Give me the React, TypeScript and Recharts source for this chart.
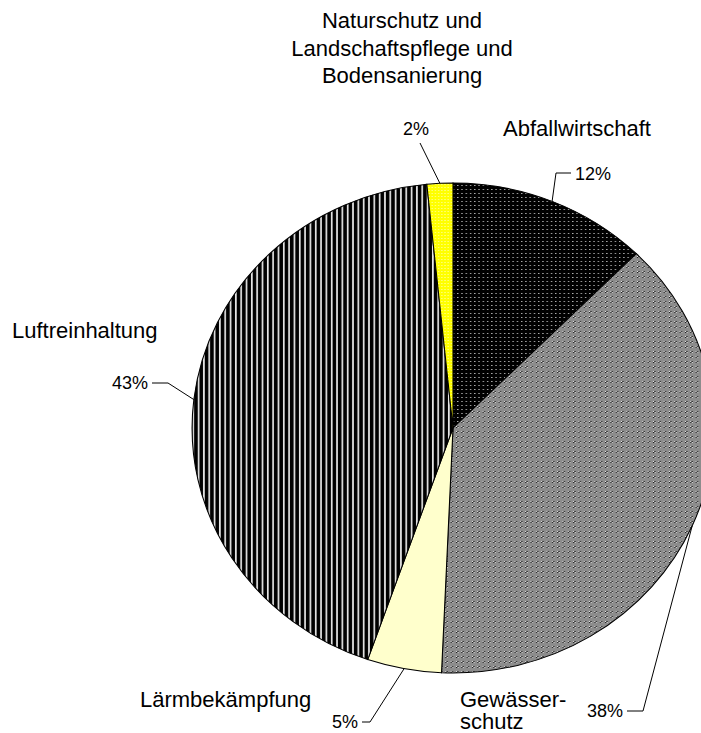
import { Cell, Pie, PieChart } from 'recharts';

const categories = [
  'Abfallwirtschaft',
  'Gewässerschutz',
  'Lärmbekämpfung',
  'Luftreinhaltung',
  'Naturschutz und Landschaftspflege und Bodensanierung',
];
const shares = [12.4, 38.3, 4.6, 43.1, 1.6];
const nameLines = [
  ['Abfallwirtschaft'],
  ['Gewässer-', 'schutz'],
  ['Lärmbekämpfung'],
  ['Luftreinhaltung'],
  ['Naturschutz und', 'Landschaftspflege und', 'Bodensanierung'],
];

const fills = ['url(#dots)', 'url(#checker)', '#FFFFCC', 'url(#stripes)', 'url(#yellowDots)'];

// label placement (px in chart space)
const layout = [
  { nx: 503, ny: 136, nAnchor: 'start', step: 22, px: 575, py: 180, pAnchor: 'start', start: [571, 173], elbow: [556, 173] },
  { nx: 460, ny: 707, nAnchor: 'start', step: 22, px: 623, py: 717, pAnchor: 'end', start: [627, 711], elbow: [643, 711] },
  { nx: 140, ny: 707, nAnchor: 'start', step: 22, px: 358, py: 728, pAnchor: 'end', start: [362, 722], elbow: [370, 722] },
  { nx: 12, ny: 338, nAnchor: 'start', step: 22, px: 148, py: 389, pAnchor: 'end', start: [152, 383], elbow: [168, 383] },
  { nx: 402, ny: 28, nAnchor: 'middle', step: 27.5, px: 403, py: 135, pAnchor: 'start', start: [420, 143], elbow: [420, 143] },
];

const data = categories.map((name, i) => ({ name, value: shares[i] }));

const CX = 453;
const CY = 428;
const R = 245;
const SX = 1.065; // pie is slightly wider than tall

const font = '"Liberation Sans", Arial, sans-serif';

function renderLabel(props: any) {
  const { cx, cy, midAngle, outerRadius, index, percent } = props;
  const l = layout[index];
  const a = ((90 - midAngle) * Math.PI) / 180;
  const rx = cx + SX * outerRadius * Math.sin(a);
  const ry = cy - outerRadius * Math.cos(a);
  return (
    <g key={'lbl' + index}>
      <polyline
        points={`${l.start[0]},${l.start[1]} ${l.elbow[0]},${l.elbow[1]} ${rx},${ry}`}
        fill='none'
        stroke='#000'
        strokeWidth={1}
      />
      <text x={l.px} y={l.py} textAnchor={l.pAnchor} fontSize={18} fontFamily={font} fill='#000'>
        {Math.round(percent * 100)}%
      </text>
      <text x={l.nx} y={l.ny} textAnchor={l.nAnchor} fontSize={22} fontFamily={font} fill='#000'>
        {nameLines[index].map((t, j) => (
          <tspan key={j} x={l.nx} y={l.ny + j * l.step}>
            {t}
          </tspan>
        ))}
      </text>
    </g>
  );
}

export default function App() {
  return (
    <div style={{ position: 'absolute', left: 0, top: 0, background: '#fff' }}>
      <style>{`.ellipse-pie .recharts-pie-sector { transform: translate(${CX}px, ${CY}px) scaleX(${SX}) translate(-${CX}px, -${CY}px); }`}</style>
      <svg width={0} height={0} style={{ position: 'absolute' }}>
        <defs>
          <pattern id='dots' width={4} height={4} patternUnits='userSpaceOnUse'>
            <rect width={4} height={4} fill='#000' />
            <rect x={1} y={1} width={1} height={1} fill='#e8e8e8' />
          </pattern>
          <pattern id='checker' width={5} height={5} patternUnits='userSpaceOnUse'>
            <rect width={5} height={5} fill='#8c8c8c' />
            <rect x={1} y={1} width={1} height={1} fill='#fff' />
            <rect x={2} y={2} width={1} height={1} fill='#fff' />
            <rect x={2} y={1} width={1} height={1} fill='#000' />
            <rect x={1} y={2} width={1} height={1} fill='#000' />
          </pattern>
          <pattern id='stripes' width={5} height={5} patternUnits='userSpaceOnUse'>
            <rect width={5} height={5} fill='#000' />
            <rect x={3.3} width={1.6} height={5} fill='#e6e6e6' />
          </pattern>
          <pattern id='yellowDots' width={3} height={3} patternUnits='userSpaceOnUse'>
            <rect width={3} height={3} fill='#FFFF00' />
            <rect x={1} y={1} width={1} height={1} fill='#ffffa8' />
          </pattern>
        </defs>
      </svg>
      <PieChart width={701} height={733} margin={{ top: 0, right: 0, bottom: 0, left: 0 }} className='ellipse-pie'>
        <Pie
          data={data}
          dataKey='value'
          nameKey='name'
          cx={CX}
          cy={CY}
          outerRadius={R}
          startAngle={90}
          endAngle={-270}
          stroke='#000'
          strokeWidth={1}
          labelLine={false}
          label={renderLabel}
          isAnimationActive={false}
        >
          {data.map((d, i) => (
            <Cell key={d.name} fill={fills[i]} />
          ))}
        </Pie>
      </PieChart>
    </div>
  );
}
